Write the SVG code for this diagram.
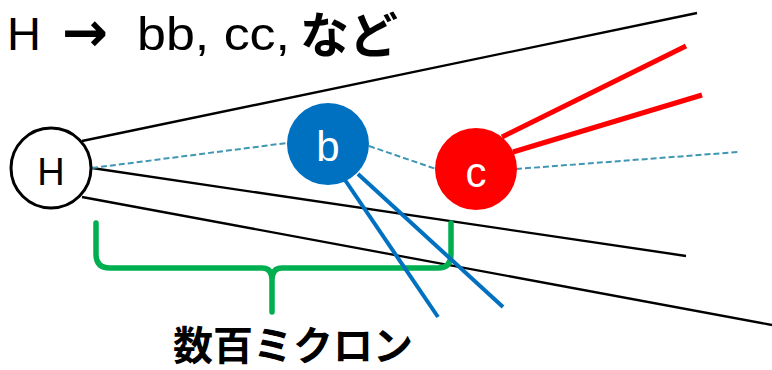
<svg xmlns="http://www.w3.org/2000/svg" width="772" height="370" viewBox="0 0 772 370">
<style>
.blk{stroke:#000;stroke-width:2.3;fill:none}
.dash{stroke:#3F97B3;stroke-width:2;stroke-dasharray:6 3;fill:none}
.blu{stroke:#0070C0;stroke-width:4;fill:none}
.red{stroke:#FF0000;stroke-width:5;fill:none}
.lbl{font-family:"Liberation Sans","Noto Sans",sans-serif;text-anchor:middle}
.jp{font-family:"Noto Sans CJK JP","Noto Sans CJK SC",sans-serif;font-weight:bold}
</style>
<rect width="772" height="370" fill="#fff"/>
<text y="50" font-family="'Liberation Sans','Noto Sans',sans-serif" font-size="47"><tspan x="7">H</tspan><tspan x="62" y="51" font-family="'DejaVu Sans',sans-serif" font-weight="bold" font-size="55">→</tspan><tspan x="137" y="50" textLength="153" lengthAdjust="spacingAndGlyphs">bb, cc,</tspan><tspan x="300" y="53" class="jp" font-size="49">など</tspan></text>
<g id="connectors">
<line class="blk" x1="82" y1="141" x2="697" y2="13"/>
<line class="blk" x1="92" y1="168" x2="686" y2="256"/>
<line class="blk" x1="82" y1="197" x2="772" y2="325"/>
<line class="dash" x1="92" y1="168" x2="287" y2="143"/>
<line class="dash" x1="369" y1="146" x2="436" y2="169"/>
<line class="dash" x1="516" y1="169" x2="738" y2="152"/>
<line class="red" x1="502" y1="137" x2="686" y2="46"/>
<line class="red" x1="513" y1="152" x2="702" y2="95"/>
</g>
<g id="brace">
<path d="M96,223 V254 Q96,268 110,268 H262 Q272,268 272,280 V312 M272,280 Q272,268 282,268 H438 Q451,268 451,254 V223" stroke="#00B050" stroke-width="5.5" fill="none" stroke-linecap="round" stroke-linejoin="round"/>
</g>
<g id="blue-jets">
<line class="blu" x1="345" y1="180" x2="438" y2="317"/>
<line class="blu" x1="358" y1="174" x2="503" y2="307"/>
</g>
<g id="node-H">
<circle cx="51" cy="168" r="40" fill="#fff" stroke="#000" stroke-width="3"/>
<text class="lbl" x="51" y="185" font-size="38">H</text>
</g>
<g id="node-b">
<circle cx="328" cy="144" r="41" fill="#0070C0"/>
<text class="lbl" x="328" y="161" font-size="42" fill="#fff">b</text>
</g>
<g id="node-c">
<circle cx="476" cy="169" r="41" fill="#FF0000"/>
<text class="lbl" x="476" y="187" font-size="42" fill="#fff">c</text>
</g>
<text class="jp" x="293" y="360" font-size="40" text-anchor="middle">数百ミクロン</text>
</svg>
